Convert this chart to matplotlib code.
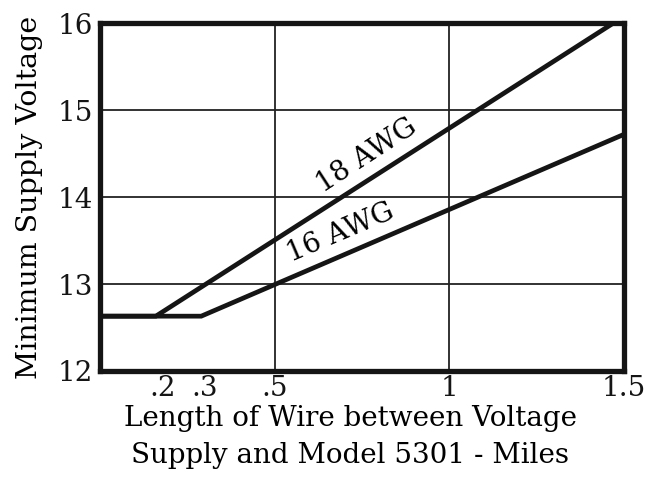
import matplotlib
matplotlib.use('Agg')
import matplotlib.pyplot as plt

# wire length (miles) vs minimum supply voltage
x_18awg = [0.0, 0.16, 1.47]
v_18awg = [12.63, 12.63, 16.0]
x_16awg = [0.0, 0.29, 1.5]
v_16awg = [12.63, 12.63, 14.72]

xticks = [0.18, 0.3, 0.5, 1.0, 1.5]
xticklabels = ['.2', '.3', '.5', '1', '1.5']
yticks = [12, 13, 14, 15, 16]

plt.rcParams['font.family'] = 'DejaVu Serif'

fig = plt.figure(figsize=(6.45, 4.83), dpi=100)
ax = fig.add_axes([0.155, 0.232, 0.812, 0.72])

# grid lines only at the major divisions
for gx in [0.5, 1.0]:
    ax.axvline(gx, color='#222222', lw=1.3, zorder=1)
for gy in [13, 14, 15]:
    ax.axhline(gy, color='#222222', lw=1.3, zorder=1)

ax.plot(x_18awg, v_18awg, color='#151515', lw=3.4, solid_joinstyle='miter', zorder=3)
ax.plot(x_16awg, v_16awg, color='#151515', lw=3.4, solid_joinstyle='miter', zorder=3)

ax.set_xlim(0, 1.5)
ax.set_ylim(12, 16)
ax.set_xticks(xticks)
ax.set_xticklabels(xticklabels)
ax.set_yticks(yticks)
ax.tick_params(axis='both', length=0, labelsize=20, colors='#151515')
ax.tick_params(axis='x', pad=3)
ax.tick_params(axis='y', pad=5)

for s in ax.spines.values():
    s.set_linewidth(3.8)
    s.set_color('#151515')

ax.text(0.765, 14.48, '18 AWG', rotation=33, fontsize=20, ha='center', va='center')
ax.text(0.69, 13.59, '16 AWG', rotation=23, fontsize=20, ha='center', va='center')

ax.set_ylabel('Minimum Supply Voltage', fontsize=20.5)
ax.yaxis.set_label_coords(-0.108, 0.5)
ax.set_xlabel('Length of Wire between Voltage\nSupply and Model 5301 - Miles',
              fontsize=20, linespacing=1.5)
ax.xaxis.set_label_coords(0.478, -0.097)
ax.xaxis.label.set_va('top')

fig.savefig('out.png', dpi=100)
